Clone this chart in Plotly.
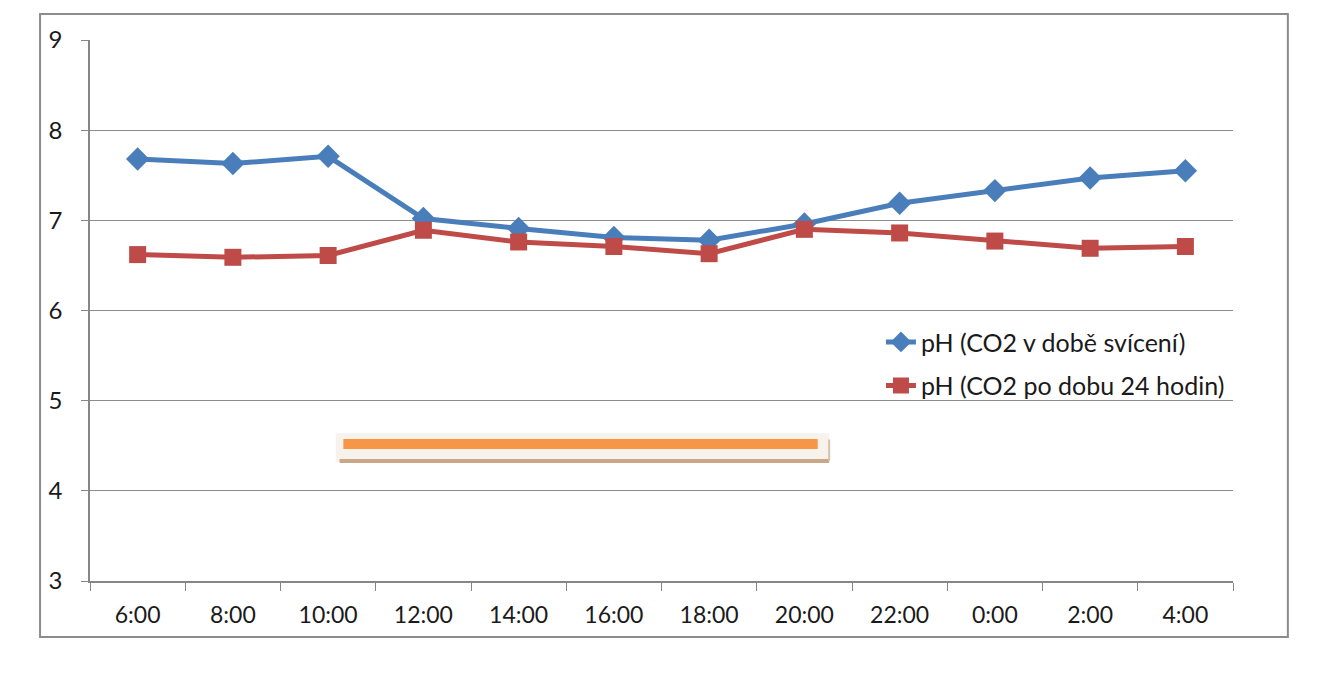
import plotly.graph_objects as go

categories = ["6:00", "8:00", "10:00", "12:00", "14:00", "16:00", "18:00", "20:00", "22:00", "0:00", "2:00", "4:00"]
ph_light = [7.68, 7.63, 7.71, 7.02, 6.91, 6.81, 6.78, 6.96, 7.19, 7.33, 7.47, 7.55]
ph_24h = [6.62, 6.59, 6.61, 6.89, 6.76, 6.71, 6.63, 6.90, 6.86, 6.77, 6.69, 6.71]
name_light = "pH (CO2 v době svícení)"
name_24h = "pH (CO2 po dobu 24 hodin)"
y_ticks = [3, 4, 5, 6, 7, 8, 9]

# decorative orange bar (category-index positions)
bar_x = [2.16, 7.14]
bar_y = 4.52

FONT = "Lato, 'Open Sans', sans-serif"
BLUE = "#4A7EBB"
RED = "#BE4B48"

fig = go.Figure()
fig.add_trace(go.Scatter(x=categories, y=ph_light, name=name_light, mode="lines+markers",
                         legendgroup="a",
                         line=dict(color=BLUE, width=5),
                         marker=dict(symbol="diamond", size=18, color=BLUE)))
fig.add_trace(go.Scatter(x=categories, y=ph_24h, name=name_24h, mode="lines+markers",
                         legendgroup="b",
                         line=dict(color=RED, width=5),
                         marker=dict(symbol="square", size=17, color=RED)))

# background box of decoration
fig.add_shape(type="rect", xref="x", yref="y", x0=bar_x[0] - 0.08, x1=bar_x[1] + 0.12,
              y0=bar_y - 0.2, y1=bar_y + 0.12, fillcolor="#F7F2EC", line=dict(width=0), layer="below")
# shadow
fig.add_shape(type="line", xref="x", yref="y", x0=bar_x[0] - 0.04, x1=bar_x[1] + 0.12,
              y0=bar_y - 0.19, y1=bar_y - 0.19, line=dict(color="#C8A888", width=4))
fig.add_shape(type="line", xref="x", yref="y", x0=bar_x[1] + 0.12, x1=bar_x[1] + 0.12,
              y0=bar_y - 0.19, y1=bar_y + 0.05, line=dict(color="#D5C2B0", width=2))
# orange bar
fig.add_shape(type="line", xref="x", yref="y", x0=bar_x[0], x1=bar_x[1],
              y0=bar_y, y1=bar_y, line=dict(color="#F79646", width=10))

# outer border
fig.add_shape(type="rect", xref="paper", yref="paper", x0=-0.0437, x1=1.048, y0=-0.1035, y1=1.048,
              line=dict(color="#8C8C8C", width=2), fillcolor="rgba(0,0,0,0)")

fig.update_layout(
    width=1322, height=667,
    margin=dict(l=82, r=97, t=32, b=94),
    paper_bgcolor="white", plot_bgcolor="white",
    font=dict(family=FONT, size=23, color="#1a1a1a"),
    showlegend=True,
    legend=dict(x=0.692, y=0.484, xanchor="left", yanchor="top",
                bgcolor="rgba(255,255,255,0)", font=dict(size=25, family=FONT),
                tracegroupgap=8),
    xaxis=dict(type="category", tickson="boundaries", ticks="outside", ticklen=8,
               tickcolor="#868686", showline=True, linecolor="#868686", linewidth=1.5,
               showgrid=False, range=[-0.5, 11.5], tickfont=dict(size=23),
               ticklabelstandoff=13),
    yaxis=dict(range=[3, 9], tickvals=y_ticks, ticks="outside", ticklen=7,
               tickcolor="#868686", showline=True, linecolor="#868686", linewidth=1.5,
               showgrid=True, gridcolor="#8C8C8C", gridwidth=1, zeroline=False,
               ticklabelstandoff=14, tickfont=dict(size=24)),
)

fig.write_html("out.html")
